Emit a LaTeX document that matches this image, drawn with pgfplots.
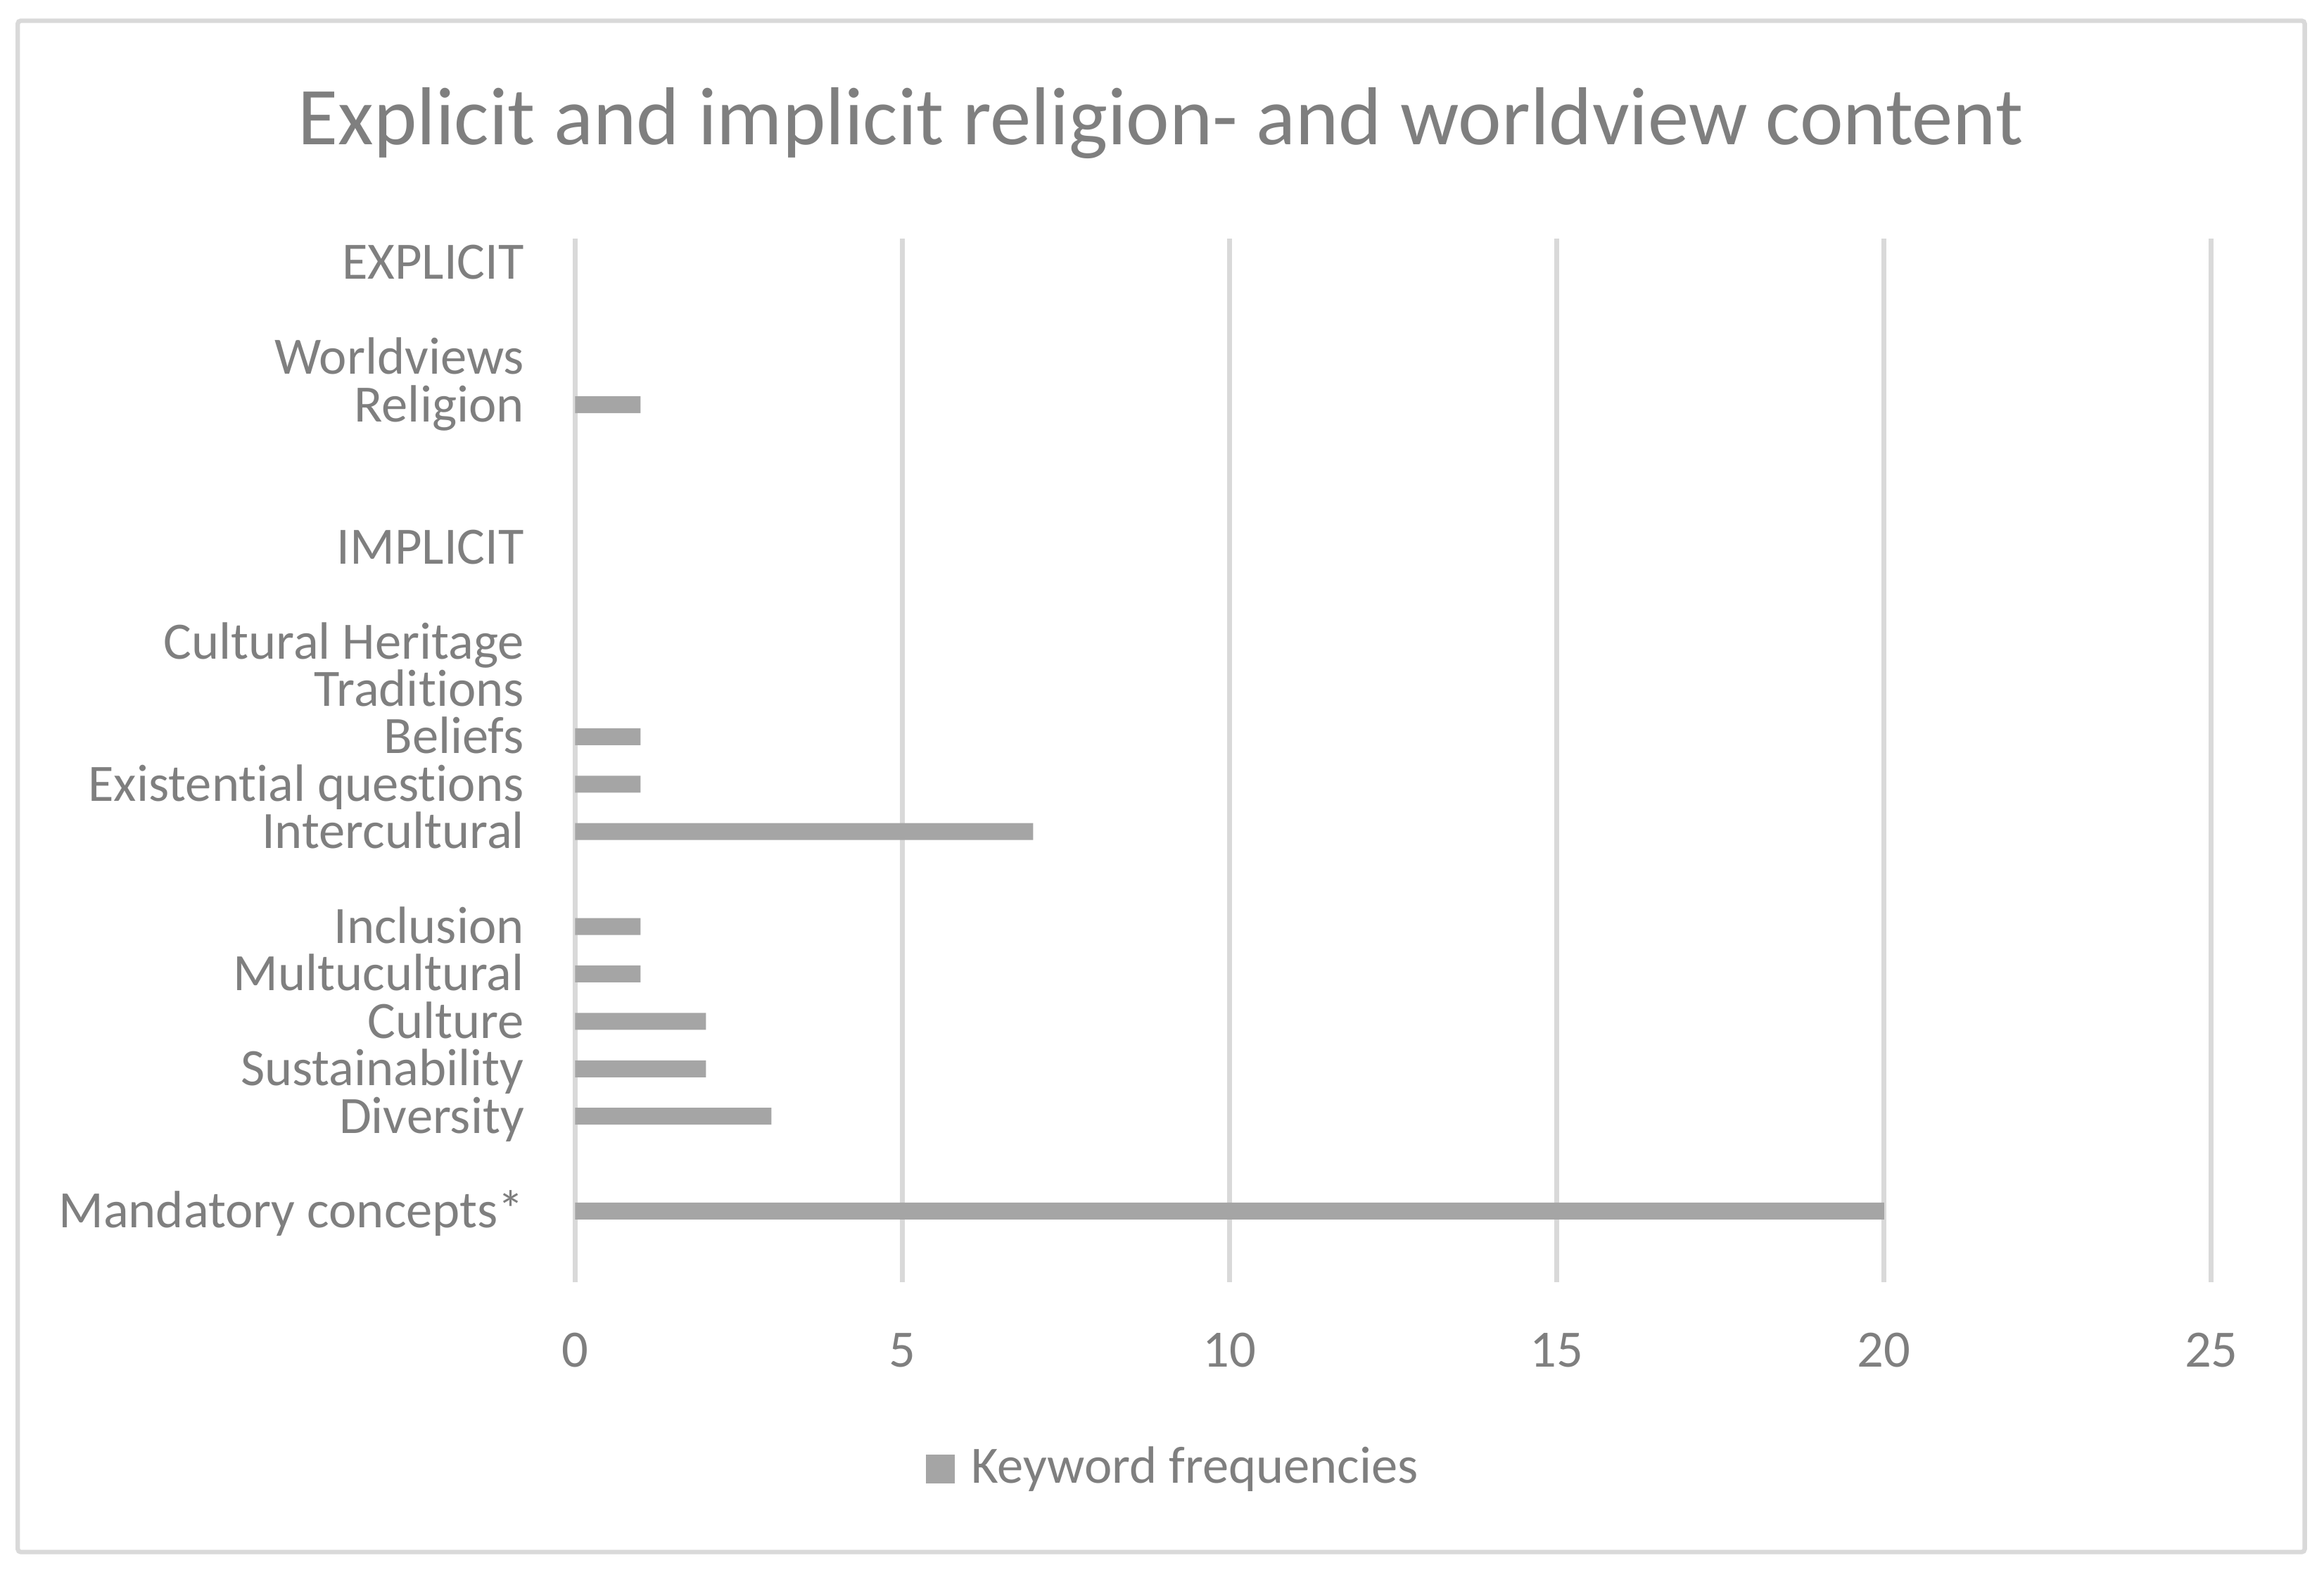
\documentclass[border=0pt]{standalone}
\usepackage{pgfplots}
\pgfplotsset{compat=1.18}
\usepackage{fontspec}
\setmainfont{Carlito}[Ligatures=NoCommon]
\definecolor{barc}{HTML}{A5A5A5}
\definecolor{textc}{HTML}{7F7F7F}
\definecolor{gridc}{HTML}{D9D9D9}
\newcommand\lab{\fontsize{8.85}{10}\selectfont}
\newcommand\ttl{\fontsize{13.85}{16}\selectfont}

\begin{document}
\begin{tikzpicture}
\useasboundingbox (0pt,0pt) rectangle (392pt,264.75pt);
\draw[gridc, line width=0.75pt, rounded corners=0.5pt] (3pt,3pt) rectangle (388.75pt,261.25pt);
\begin{axis}[
  at={(97pt,48.5pt)}, anchor=south west,
  scale only axis, width=276pt, height=176pt,
  xmin=0, xmax=25, ymin=-0.5, ymax=21.5,
  xtick={0,5,...,25},
  ytick={0,...,21},
  yticklabels={{},Mandatory concepts*,{},Diversity,Sustainability,Culture,Multucultural,Inclusion,{},Intercultural,Existential questions,Beliefs,Traditions,Cultural Heritage,{},IMPLICIT,{},{},Religion,Worldviews,{},EXPLICIT},
  axis line style={draw=none},
  major tick length=0pt,
  xmajorgrids, grid style={draw=gridc, line width=0.8pt},
  /pgf/number format/assume math mode=true,
  xticklabel style={font=\lab, text=textc, anchor=base, inner sep=0pt, yshift=-14.25pt},
  yticklabel style={font=\lab, text=textc, anchor=base east, inner sep=0pt, xshift=-8.4pt, yshift=-2.85pt},
  title={Explicit and implicit religion- and worldview content},
  every axis title/.style={font=\ttl, text=textc, at={(0.358,1.0902)}, anchor=base, inner sep=0pt},
  legend style={at={(0.2138,-0.1790)}, anchor=west, draw=none, fill=none, inner sep=0pt,
    nodes={inner sep=0pt, font=\lab, text=textc}},
  legend image code/.code={\fill[barc] (0pt,-2.45pt) rectangle (4.9pt,2.45pt); \path (7.6pt,0pt);},
]
\addplot[xbar, bar width=2.85pt, fill=barc, draw=none] coordinates {
  (20,1) (3,3) (2,4) (2,5) (1,6) (1,7) (7,9) (1,10) (1,11) (1,18)
};
\addlegendentry{Keyword frequencies}
\end{axis}
\end{tikzpicture}
\end{document}
